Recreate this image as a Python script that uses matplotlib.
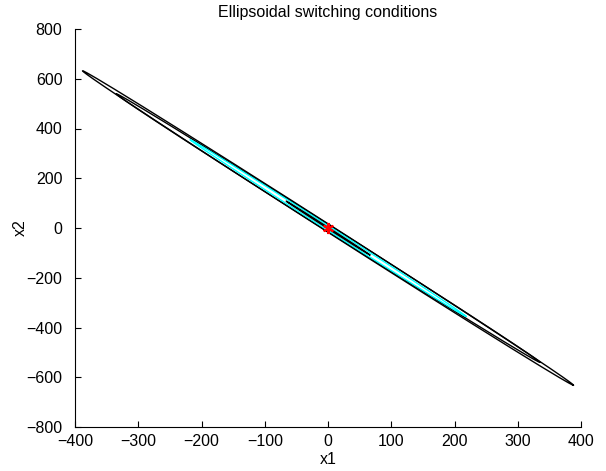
import numpy as np
import matplotlib
matplotlib.use('Agg')
from matplotlib import pyplot as plt

# semi-major axis end point of each ellipse (x1, x2), and half width across it
tip_x1 = [388, 335, 218, 66]
tip_x2 = [-632, -540, -355, -108]
half_width = [9, 8, 5, 1.5]
line_colors = ['black', 'black', 'cyan', 'black']

center_x1 = [0]
center_x2 = [0]

plt.rcParams['font.family'] = ['Liberation Sans', 'DejaVu Sans']
plt.rcParams['font.size'] = 11.5

fig = plt.figure(figsize=(6.06, 4.71), dpi=100)
ax = fig.add_axes([75 / 606, 1 - 427 / 471, 506 / 606, 398 / 471])

t = np.linspace(0, 2 * np.pi, 721)
for a1, a2, b, c in zip(tip_x1, tip_x2, half_width, line_colors):
    n = np.hypot(a1, a2)
    v1, v2 = -a2 / n * b, a1 / n * b
    ax.plot(np.cos(t) * a1 + np.sin(t) * v1, np.cos(t) * a2 + np.sin(t) * v2,
            color=c, lw=1.0)

ax.plot(center_x1, center_x2, linestyle='none', marker=(6, 2, 0), color='red',
        markersize=8, markeredgewidth=1.5)

ax.set_xlim(-400, 400)
ax.set_ylim(-800, 800)
ax.set_xticks(np.arange(-400, 401, 100))
ax.set_yticks(np.arange(-800, 801, 200))
ax.spines['top'].set_visible(False)
ax.spines['right'].set_visible(False)
ax.tick_params(direction='in', length=4, width=0.8)
ax.tick_params(axis='y', pad=9)
ax.tick_params(axis='x', pad=5)
ax.set_title('Ellipsoidal switching conditions', fontsize=11.5, pad=9)
ax.set_xlabel('x1', labelpad=2)
ax.set_ylabel('x2', labelpad=-1)

plt.savefig('out.png', dpi=100)
